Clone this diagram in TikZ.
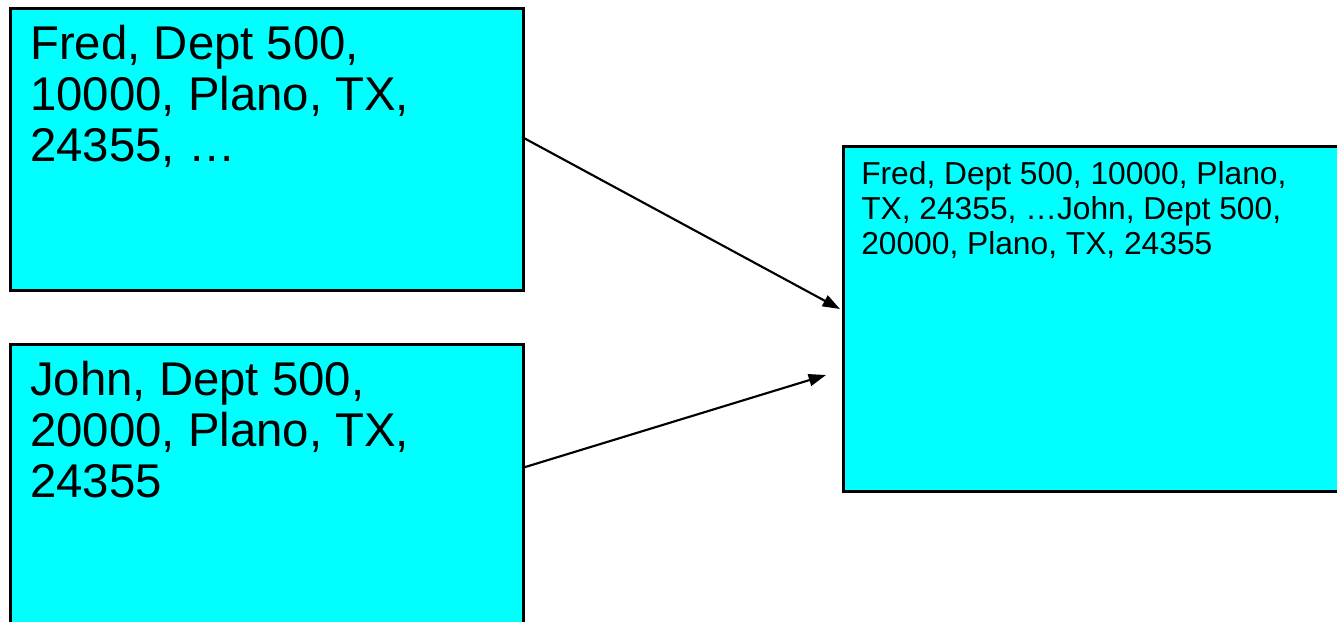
\documentclass[tikz,border=0pt]{standalone}
\usepackage{fontspec}
\setmainfont{Liberation Sans}
\usetikzlibrary{arrows.meta}
\definecolor{aqua}{RGB}{0,255,255}
\begin{document}
\begin{tikzpicture}[x=0.75pt,y=-0.75pt,
  box/.style={draw=black,line width=1.9pt,fill=aqua,anchor=north west,inner sep=0pt},
  bigtext/.style={anchor=north west,inner sep=0pt,align=left,font=\fontsize{35.5pt}{38.3pt}\selectfont},
  smalltext/.style={anchor=north west,inner sep=0pt,align=left,font=\fontsize{23.8pt}{26.2pt}\selectfont},
  conn/.style={line width=1.6pt,-{Triangle[length=13pt,width=9pt]}}]
\useasboundingbox (0,0) rectangle (1337,621);
\clip (0,0) rectangle (1337,621);
\node[box,minimum width=384.75pt,minimum height=211.5pt] (b1) at (9,7) {};
\node[box,minimum width=384.75pt,minimum height=222.75pt] (b2) at (9,343) {};
\node[box,minimum width=381pt,minimum height=258.75pt] (b3) at (842,145) {};
\node[bigtext] (t1) at (30,25) {Fred, Dept 500,\\10000, Plano, TX,\\24355, …};
\node[bigtext] (t2) at (30,361) {John, Dept 500,\\20000, Plano, TX,\\24355};
\node[smalltext] (t3) at (861,161) {Fred, Dept 500, 10000, Plano,\\TX, 24355, …John, Dept 500,\\20000, Plano, TX, 24355};
\coordinate (s1) at (522,137);
\coordinate (e1) at (840,309);
\coordinate (s2) at (522,468);
\coordinate (e2) at (826,375);
\draw[conn] (s1) -- (e1);
\draw[conn] (s2) -- (e2);
\end{tikzpicture}
\end{document}
